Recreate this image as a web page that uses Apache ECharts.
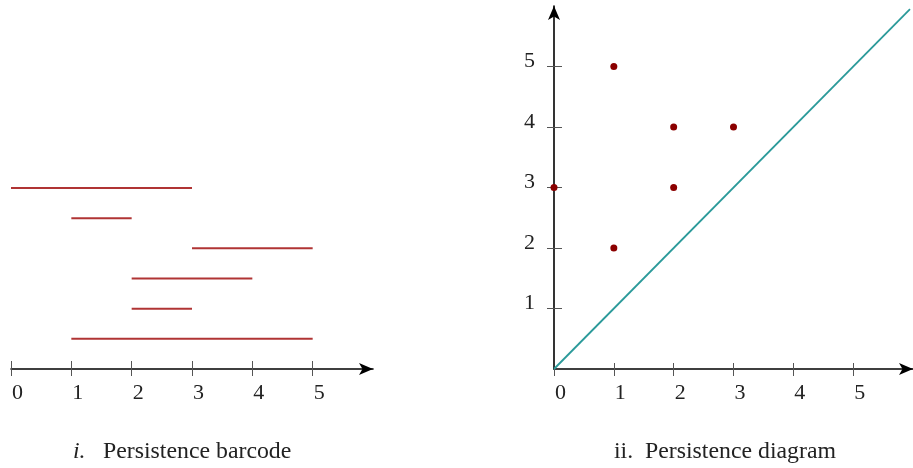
<!DOCTYPE html>
<html>
<head>
<meta charset="utf-8">
<script src="https://cdn.jsdelivr.net/npm/echarts@6/dist/echarts.min.js"></script>
<style>
html,body{margin:0;padding:0;background:#fff;}
#c{width:913px;height:468px;}
</style>
</head>
<body>
<div id="c"></div>
<script>
// ---- data ----
const barBirth = [0, 1, 3, 2, 2, 1];
const barDeath = [3, 2, 5, 4, 3, 5];
const barRow   = [6, 5, 4, 3, 2, 1];
const diagBirth = [0, 1, 1, 2, 2, 3];
const diagDeath = [3, 5, 2, 4, 3, 4];
const xTickValues = [0, 1, 2, 3, 4, 5];
const yTickValues = [1, 2, 3, 4, 5];
const diagonal = [[0, 0], [5.95, 5.95]];
const captionLeft = ['i.', 'Persistence barcode'];
const captionRight = ['ii.', 'Persistence diagram'];

const FONT = '"Liberation Serif", "DejaVu Serif", serif';
const chart = echarts.init(document.getElementById('c'), null, {renderer: 'canvas'});

const barData = barBirth.map((b, i) => [b, barDeath[i], barRow[i]]);
const dotData = diagBirth.map((b, i) => [b, diagDeath[i]]);

const labelStyle = {fontFamily: FONT, fontSize: 22, color: '#222'};

function mainX(gridIndex) {
  return {
    type: 'value', gridIndex, min: 0, max: 6, position: 'bottom',
    splitLine: {show: false},
    axisLine: {show: true, onZero: false, lineStyle: {color: '#000', width: 1.6},
      symbol: ['none', 'arrow'], symbolSize: [9, 14], symbolOffset: [0, 0]},
    axisTick: {show: true, inside: false, length: 7, lineStyle: {color: '#555', width: 1},
      customValues: xTickValues},
    axisLabel: Object.assign({show: true, align: 'left', margin: 13, customValues: xTickValues,
      padding: [0, 0, 0, 1]}, labelStyle)
  };
}
function tickX(gridIndex, len) {
  return {
    type: 'value', gridIndex, min: 0, max: 6, position: 'bottom',
    splitLine: {show: false},
    axisLine: {show: false},
    axisTick: {show: true, inside: true, length: len, lineStyle: {color: '#555', width: 1},
      customValues: gridIndex === 0 ? xTickValues : xTickValues.slice(1)},
    axisLabel: {show: false}
  };
}

chart.setOption({
  animation: false,
  backgroundColor: '#fff',
  grid: [
    {left: 11, top: 188, width: 362, height: 181},
    {left: 554, top: 6, width: 364, height: 363}
  ],
  xAxis: [mainX(0), tickX(0, 8), mainX(1), tickX(1, 6)],
  yAxis: [
    {type: 'value', gridIndex: 0, min: 0, max: 6, show: false},
    {type: 'value', gridIndex: 1, min: 0, max: 6, position: 'left',
      splitLine: {show: false},
      axisLine: {show: true, onZero: false, lineStyle: {color: '#000', width: 1.6},
        symbol: ['none', 'arrow'], symbolSize: [9, 14]},
      axisTick: {show: true, inside: false, length: 7, lineStyle: {color: '#555', width: 1},
        customValues: yTickValues},
      axisLabel: Object.assign({show: true, margin: 19, verticalAlign: 'bottom', lineHeight: 10,
        customValues: yTickValues}, labelStyle)
    },
    {type: 'value', gridIndex: 1, min: 0, max: 6, position: 'left',
      splitLine: {show: false}, axisLine: {show: false},
      axisTick: {show: true, inside: true, length: 8, lineStyle: {color: '#555', width: 1},
        customValues: yTickValues},
      axisLabel: {show: false}
    }
  ],
  series: [
    {
      type: 'custom', xAxisIndex: 0, yAxisIndex: 0,
      data: barData,
      encode: {x: [0, 1], y: 2},
      renderItem: function (params, api) {
        const p1 = api.coord([api.value(0), api.value(2)]);
        const p2 = api.coord([api.value(1), api.value(2)]);
        return {type: 'line', shape: {x1: p1[0], y1: p1[1], x2: p2[0], y2: p2[1]},
          style: {stroke: '#b03434', lineWidth: 2}};
      },
      silent: true
    },
    {
      type: 'line', xAxisIndex: 2, yAxisIndex: 1,
      data: diagonal, showSymbol: false, symbol: 'none',
      lineStyle: {color: '#2b9a9a', width: 1.8}, silent: true, clip: false
    },
    {
      type: 'scatter', xAxisIndex: 2, yAxisIndex: 1,
      data: dotData, symbolSize: 7,
      itemStyle: {color: '#8b0000', opacity: 1}, silent: true, clip: false
    }
  ],
  graphic: [
    {type: 'text', left: 73, top: 440, style: {text: captionLeft[0], font: 'italic 23.8px ' + FONT, fill: '#222'}},
    {type: 'text', left: 103, top: 440, style: {text: captionLeft[1], font: '23.8px ' + FONT, fill: '#222'}},
    {type: 'text', left: 614, top: 440, style: {text: captionRight[0], font: '23.8px ' + FONT, fill: '#222'}},
    {type: 'text', left: 645, top: 440, style: {text: captionRight[1], font: '23.8px ' + FONT, fill: '#222'}}
  ]
});
</script>
</body>
</html>
